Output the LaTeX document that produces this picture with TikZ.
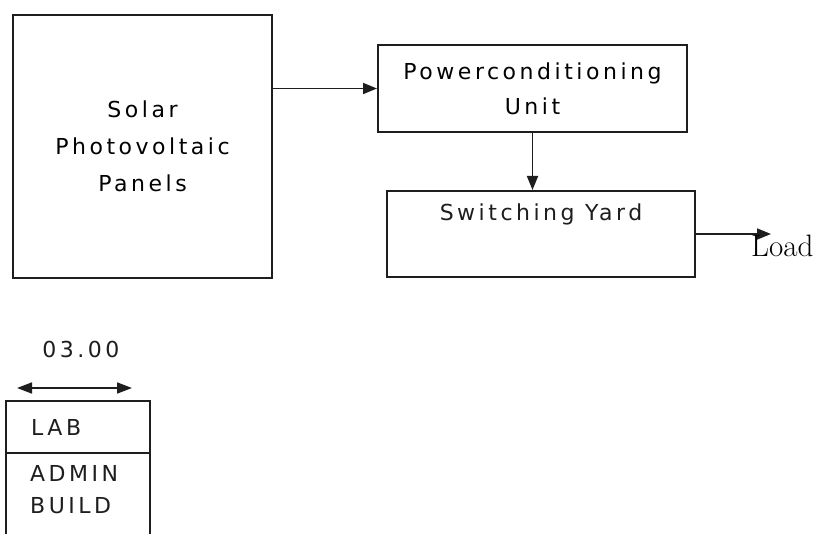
\documentclass[tikz,border=0pt]{standalone}
\usepackage{fontspec}
\usepackage{tikz}
\usetikzlibrary{arrows.meta,positioning}
\newfontfamily\panelfont[LetterSpace=16]{DejaVu Sans}
\definecolor{lineblack}{RGB}{30,30,30}
\tikzset{
  blockbox/.style={rectangle, draw=lineblack, line width=2pt, fill=white, inner sep=0pt, align=center, font=\panelfont\fontsize{22}{37}\selectfont},
  lbl/.style={inner sep=0pt, align=center, text=lineblack, font=\panelfont\fontsize{22}{36}\selectfont},
  flowarrow/.style={line width=1.7pt, lineblack, -{Triangle[length=14pt,width=11pt]}},
  dimarrow/.style={line width=1.7pt, lineblack, {Triangle[length=15pt,width=11pt]}-{Triangle[length=15pt,width=11pt]}}
}
\begin{document}
\begin{tikzpicture}[x=1pt,y=-1pt]
  \useasboundingbox (0,0) rectangle (817,534);
  \clip (0,0) rectangle (817,534);

  % Plant chain
  \node[blockbox, minimum width=259pt, minimum height=263pt] (solar) at (142.5,146.5) {Solar\\Photovoltaic\\Panels};
  \node[blockbox, minimum width=309pt, minimum height=87pt, font=\panelfont\fontsize{22}{35}\selectfont] (power) at (532.5,88.5) {Powerconditioning\\Unit};
  \node[blockbox, minimum width=308pt, minimum height=86pt] (yard) at (541,234) {};
  \node[lbl, below=14pt of yard.north] (yardtxt) {Switching Yard};
  \draw[flowarrow] (solar.east |- power.west) -- (power.west);
  \draw[flowarrow] (power.south) -- (power.south |- yard.north);

  % Output to load
  \coordinate (loadtip) at (771,234);
  \draw[flowarrow] (yard.east) -- (loadtip);
  \node[anchor=base west, inner sep=0pt, font=\fontsize{31}{33}\selectfont] (load) at (751,257) {Load};

  % Building strip with width mark
  \node[lbl] (width) at (81,349) {03.00};
  \coordinate (dimL) at (17,388);
  \coordinate (dimR) at (132,388);
  \draw[dimarrow] (dimL) -- (dimR);
  \node[blockbox, minimum width=144pt, minimum height=52pt] (lab) at (78,427) {};
  \node[blockbox, minimum width=144pt, minimum height=147pt] (admin) at (78,526.5) {};
  \node[lbl, anchor=west, right=26pt of lab.west] (labtxt) {LAB};
  \node[lbl, align=left, font=\panelfont\fontsize{22}{32}\selectfont, below right=13pt and 25pt of admin.north west] (admintxt) {ADMIN\\BUILD};
\end{tikzpicture}
\end{document}
